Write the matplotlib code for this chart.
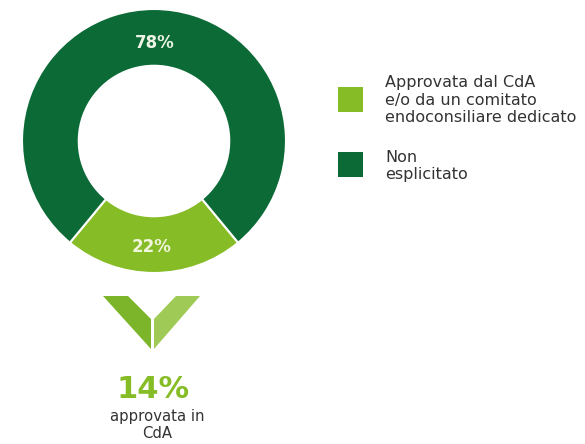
import matplotlib
matplotlib.use("Agg")
import matplotlib.pyplot as plt
from matplotlib.patches import Rectangle, Polygon

# Data
categories = ["Approvata dal CdA\ne/o da un comitato\nendoconsiliare dedicato", "Non\nesplicitato"]
values = [22, 78]
value_labels = ["22%", "78%"]
highlight_value = "14%"
highlight_text = "approvata in\nCdA"

LIGHT = "#86bc25"
DARK = "#0b6a36"
colors = [LIGHT, DARK]

W, H = 585, 444
fig = plt.figure(figsize=(W / 100, H / 100), dpi=100)
ax = fig.add_axes([0, 0, 1, 1])

cx, cy, R = 154, H - 141, 132
width = 0.43
span = values[0] / sum(values) * 360
wedges, _ = ax.pie(values, colors=colors, startangle=270 - span / 2, counterclock=True,
                   radius=R, center=(cx, cy),
                   wedgeprops=dict(width=R * width, edgecolor="white", linewidth=1.5))

# labels inside ring
ax.text(152, H - 247, value_labels[0], ha="center", va="center", color="#f0f5dc",
        fontsize=12, fontweight="bold")
ax.text(155, H - 43, value_labels[1], ha="center", va="center", color="#eef4e4",
        fontsize=12, fontweight="bold")

# chevron
left = [(103, 296), (128, 296), (151, 319), (151, 349)]
right = [(176, 296), (200, 296), (154, 349), (154, 319)]
ax.add_patch(Polygon([(x, H - y) for x, y in left], closed=True, facecolor="#7cb52a", edgecolor="none"))
ax.add_patch(Polygon([(x, H - y) for x, y in right], closed=True, facecolor="#9fca56", edgecolor="none"))

# highlight text
ax.text(153, H - 390, highlight_value, ha="center", va="center", color=LIGHT,
        fontsize=22, fontweight="bold")
ax.text(157, H - 425, highlight_text, ha="center", va="center", color="#333333",
        fontsize=10.7, linespacing=1.15)

# legend
sq = [(338, 87), (338, 152)]
text_y = [100, 166]
for (x0, y0), c, lab, ty in zip(sq, colors, categories, text_y):
    ax.add_patch(Rectangle((x0, H - y0 - 25), 25, 25, facecolor=c, edgecolor="none"))
    ax.text(385, H - ty, lab, ha="left", va="center", color="#333333",
            fontsize=11.5, linespacing=1.22)

ax.set_xlim(0, W)
ax.set_ylim(0, H)
ax.set_aspect("equal")
ax.axis("off")

fig.savefig("out.png", dpi=100, facecolor="white")
